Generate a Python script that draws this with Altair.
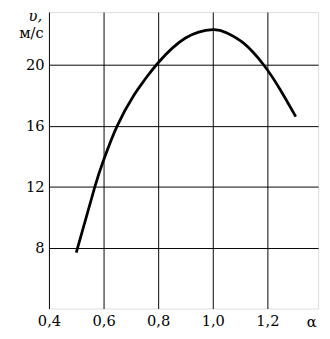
import altair as alt
import pandas as pd

# curve values
alpha = [0.50, 0.568, 0.60, 0.65, 0.711, 0.75, 0.80, 0.90, 1.00, 1.05, 1.114, 1.186, 1.246, 1.304]
speed = [7.7, 12.0, 13.75, 16.0, 18.0, 19.0, 20.13, 21.75, 22.3, 22.1, 21.4, 20.0, 18.4, 16.6]

x_ticks = [0.4, 0.6, 0.8, 1.0, 1.2]
y_ticks = [8, 12, 16, 20]

FONT = "DejaVu Serif"

df = pd.DataFrame({"a": alpha, "v": speed})

x_scale = alt.Scale(domain=[0.4, 1.3857], nice=False, zero=False)
y_scale = alt.Scale(domain=[4.04, 23.45], nice=False, zero=False)

line = alt.Chart(df).mark_line(
    color="black", strokeWidth=2.8, interpolate="natural"
).encode(
    x=alt.X("a:Q", scale=x_scale,
            axis=alt.Axis(values=x_ticks, title="α", grid=True, domain=False,
                          ticks=False, labelPadding=5, labelBaseline="top",
                          labelExpr="replace(format(datum.value, '.1f'), '.', ',')",
                          labelFont=FONT, labelFontSize=15, labelColor="black",
                          titleFont=FONT, titleFontSize=15, titleFontWeight="normal",
                          titleColor="black", titleX=269, titleY=18,
                          titleBaseline="alphabetic", titleAlign="center",
                          gridColor="black", gridOpacity=1, gridWidth=1,
                          labelFlush=False)),
    y=alt.Y("v:Q", scale=y_scale,
            axis=alt.Axis(values=y_ticks, title=None, grid=True, domain=False,
                          ticks=False, labelPadding=5,
                          labelFont=FONT, labelFontSize=15, labelColor="black",
                          gridColor="black", gridOpacity=1, gridWidth=1,
                          labelFlush=False)),
)

title_df = pd.DataFrame({"t": ["υ,"]})
unit_df = pd.DataFrame({"t": ["м/с"]})

t1 = alt.Chart(title_df).mark_text(
    font=FONT, fontSize=15, fontStyle="italic", align="center",
    baseline="alphabetic", color="black"
).encode(text="t:N", x=alt.value(-14), y=alt.value(9))

t2 = alt.Chart(unit_df).mark_text(
    font=FONT, fontSize=15, align="center", baseline="alphabetic", color="black"
).encode(text="t:N", x=alt.value(-18), y=alt.value(27))

chart = alt.layer(line, t1, t2).properties(
    width=276, height=304,
    padding={"left": 42, "top": 0, "right": 4, "bottom": 22},
    autosize=alt.AutoSizeParams(type="none"),
).configure_view(
    stroke="black", strokeWidth=1.2
).configure(background="white")

chart.save("out.html", embed_options={"renderer": "svg", "actions": False})
